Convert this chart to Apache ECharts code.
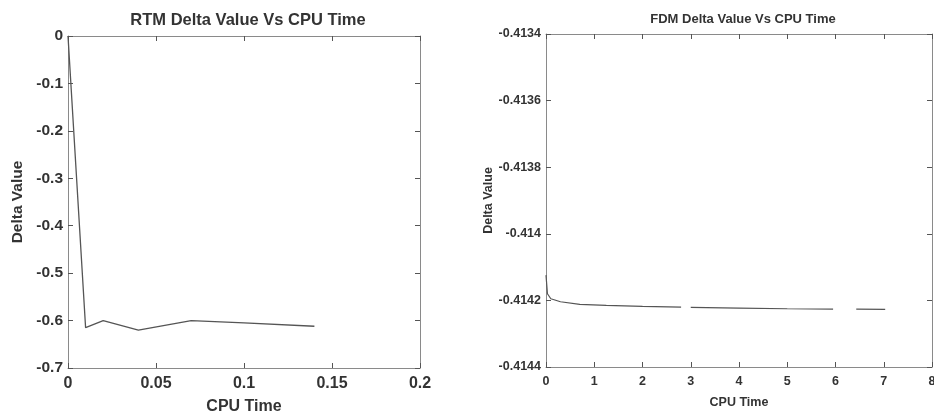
<!DOCTYPE html>
<html><head><meta charset="utf-8">
<script src="https://cdn.jsdelivr.net/npm/echarts@6/dist/echarts.min.js"></script>
<style>html,body{margin:0;padding:0;background:#fff}#c{width:934px;height:413px}</style>
</head><body><div id="c"></div>
<script>
// Left chart: RTM
const rtmTime = [0, 0.01, 0.02, 0.04, 0.07, 0.1, 0.14];
const rtmDelta = [0, -0.615, -0.6, -0.62, -0.6, -0.605, -0.612];
// Right chart: FDM ('-' marks breaks in the drawn line)
const fdmTime = [0, 0.03, 0.1, 0.3, 0.7, 1.25, 2, 2.8, 2.9, 3.0, 4, 5, 5.95, 6.2, 6.43, 7.03];
const fdmDelta = [-0.414124, -0.41418, -0.414195, -0.414204, -0.414212, -0.414215, -0.414218, -0.41422, '-', -0.414221, -0.414223, -0.414225, -0.414226, '-', -0.414226, -0.414227];
const rtmXTicks = [0, 0.2, 0.05];
const rtmYTicks = [-0.7, 0, 0.1];
const fdmXTicks = [0, 8, 1];
const fdmYTicks = [-0.4144, -0.4134, 0.0002];

const txt = '#333';
const axCol = '#8a8a8a';
const font = 'Liberation Sans, Arial, sans-serif';
const narrow = 'Liberation Sans Narrow, Liberation Sans, Arial, sans-serif';

function mkX(idx, t, pos, show, fs, ff, name, gap) {
  return {
    type: 'value', gridIndex: idx, position: pos, min: t[0], max: t[1], interval: t[2],
    axisLine: {show: true, onZero: false, lineStyle: {color: axCol, width: 1}},
    axisTick: {show: true, inside: true, length: 5, lineStyle: {color: '#555'}},
    axisLabel: {show: show, color: txt, fontSize: fs, fontFamily: ff, fontWeight: 'bold', margin: 8},
    splitLine: {show: false},
    name: show ? name : '', nameLocation: 'middle', nameGap: gap,
    nameTextStyle: {color: txt, fontSize: fs, fontFamily: ff, fontWeight: 'bold'}
  };
}
function mkY(idx, t, pos, show, fs, ff, name, gap) {
  return {
    type: 'value', gridIndex: idx, position: pos, min: t[0], max: t[1], interval: t[2],
    axisLine: {show: true, onZero: false, lineStyle: {color: axCol, width: 1}},
    axisTick: {show: true, inside: true, length: 5, lineStyle: {color: '#555'}},
    axisLabel: {show: show, color: txt, fontSize: fs, fontFamily: ff, fontWeight: 'bold', margin: 5},
    splitLine: {show: false},
    name: show ? name : '', nameLocation: 'middle', nameGap: gap,
    nameTextStyle: {color: txt, fontSize: fs, fontFamily: ff, fontWeight: 'bold'}
  };
}

const chart = echarts.init(document.getElementById('c'), null, {renderer: 'canvas'});
chart.setOption({
  animation: false,
  backgroundColor: '#fff',
  title: [
    {text: 'RTM Delta Value Vs CPU Time', left: 243, top: 7, textAlign: 'center',
     textStyle: {color: txt, fontSize: 16.5, fontFamily: font, fontWeight: 'bold'}},
    {text: 'FDM Delta Value Vs CPU Time', left: 738, top: 8, textAlign: 'center',
     textStyle: {color: txt, fontSize: 13, fontFamily: narrow, fontWeight: 'bold'}}
  ],
  grid: [
    {left: 68, top: 36, width: 352, height: 332, outerBoundsMode: 'none', containLabel: false},
    {left: 546, top: 34, width: 386, height: 333, outerBoundsMode: 'none', containLabel: false}
  ],
  xAxis: [
    mkX(0, rtmXTicks, 'bottom', true, 16, font, 'CPU Time', 31),
    mkX(0, rtmXTicks, 'top', false, 16, font, '', 0),
    mkX(1, fdmXTicks, 'bottom', true, 12.5, narrow, 'CPU Time', 29),
    mkX(1, fdmXTicks, 'top', false, 12.5, narrow, '', 0)
  ],
  yAxis: [
    mkY(0, rtmYTicks, 'left', true, 15.5, font, 'Delta Value', 42),
    mkY(0, rtmYTicks, 'right', false, 15.5, font, '', 0),
    mkY(1, fdmYTicks, 'left', true, 12.5, narrow, 'Delta Value', 50),
    mkY(1, fdmYTicks, 'right', false, 12.5, narrow, '', 0)
  ],
  series: [
    {type: 'line', xAxisIndex: 0, yAxisIndex: 0, showSymbol: false, symbol: 'none',
     lineStyle: {color: '#555', width: 1.3},
     data: rtmTime.map((t, i) => [t, rtmDelta[i]])},
    {type: 'line', xAxisIndex: 2, yAxisIndex: 2, showSymbol: false, symbol: 'none', connectNulls: false,
     lineStyle: {color: '#555', width: 1.2},
     data: fdmTime.map((t, i) => [t, fdmDelta[i]])}
  ]
});
</script></body></html>
